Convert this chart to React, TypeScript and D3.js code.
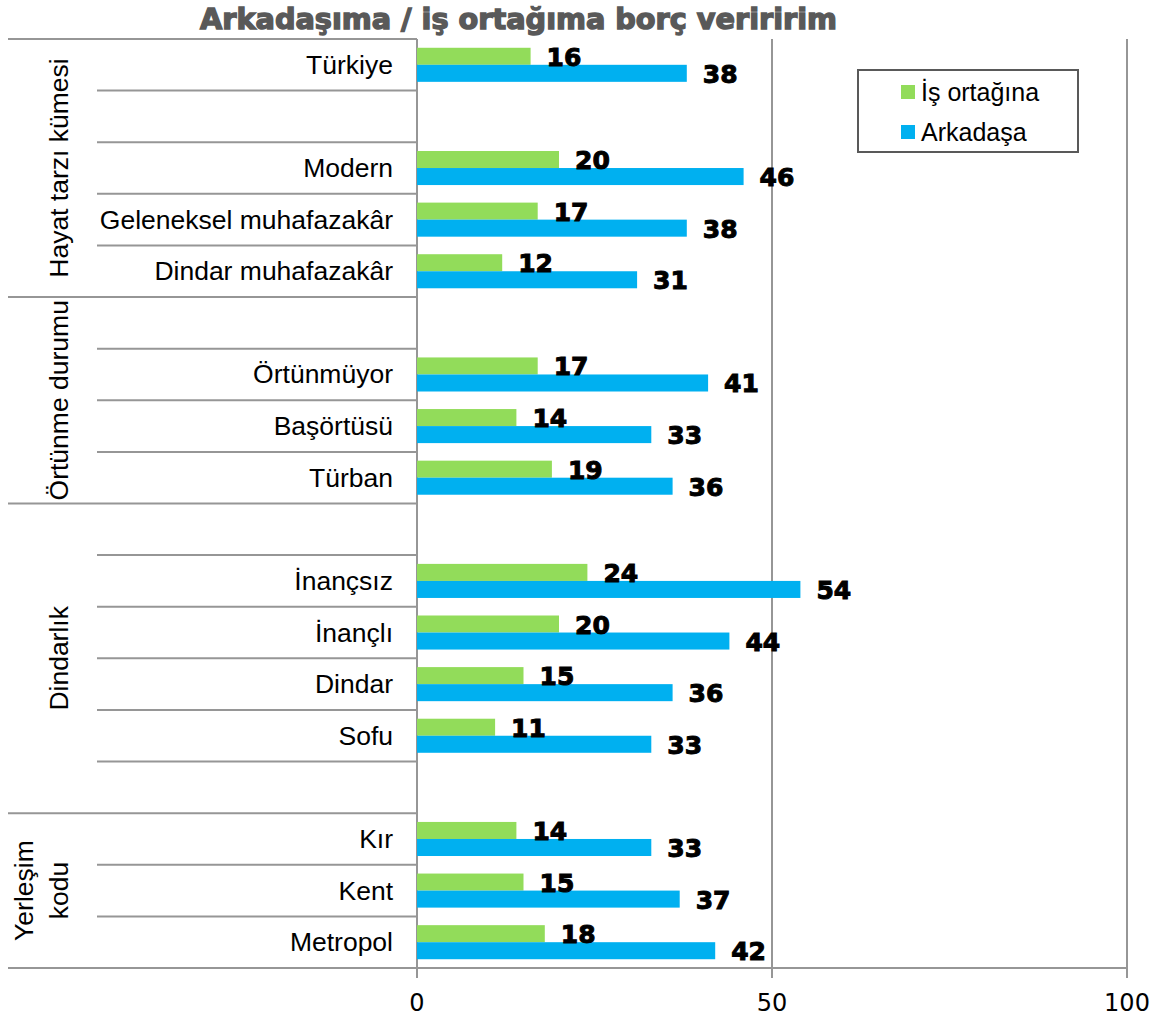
import React from "react";
import * as d3 from "d3";

const title = "Arkadaşıma / iş ortağıma borç veriririm";
const categories = [
  "Türkiye", "", "Modern", "Geleneksel muhafazakâr", "Dindar muhafazakâr",
  "", "Örtünmüyor", "Başörtüsü", "Türban",
  "", "İnançsız", "İnançlı", "Dindar", "Sofu", "",
  "Kır", "Kent", "Metropol",
];
const isOrtagina: (number | null)[] = [16, null, 20, 17, 12, null, 17, 14, 19, null, 24, 20, 15, 11, null, 14, 15, 18];
const arkadasa: (number | null)[] = [38, null, 46, 38, 31, null, 41, 33, 36, null, 54, 44, 36, 33, null, 33, 37, 42];
const seriesNames = ["İş ortağına", "Arkadaşa"];
const seriesColors = ["#92dc5a", "#00b0f0"];
const groupLabels = [["Hayat tarzı kümesi"], ["Örtünme durumu"], ["Dindarlık"], ["Yerleşim", "kodu"]];
const groupStarts = [0, 5, 9, 15];
const groupEnds = [5, 9, 15, 18];
const xTicks = [0, 50, 100];

const W = 1168, H = 1021;
const left = 417, right = 1127, top = 39, bottom = 968;
const gridColor = "#969696";
const catFont = "'Liberation Sans', Arial, sans-serif";

export default function App() {
  const x = d3.scaleLinear().domain([0, 100]).range([left, right]);
  const rows = d3.scaleBand<number>().domain(d3.range(categories.length)).range([top, bottom]).padding(0);
  const rh = rows.bandwidth();
  const inner = d3.scaleBand<number>().domain([0, 1]).range([rh * 0.17, rh * 0.83]).padding(0);
  const series = [isOrtagina, arkadasa];

  const groupStartSet = new Set(groupStarts);
  const rowLines = d3.range(categories.length).map((i) => ({
    y: rows(i)!,
    x1: groupStartSet.has(i) ? 8 : 97,
  }));

  return (
    <svg width={W} height={H} style={{ position: "absolute", left: 0, top: 0, background: "#fff" }}>
      {/* title */}
      <text x={518.5} y={29} textAnchor="middle" fontFamily="'DejaVu Sans', sans-serif" fontWeight="bold"
        fontSize={28} fill="#595959" stroke="#595959" strokeWidth={1.4} textLength={637}
        lengthAdjust="spacingAndGlyphs">{title}</text>

      {/* vertical gridlines */}
      {xTicks.map((t) => (
        <line key={"g" + t} x1={x(t)} x2={x(t)} y1={top} y2={bottom + 10} stroke={gridColor} strokeWidth={2} />
      ))}

      {/* category row separators */}
      {rowLines.map((l, i) => (
        <line key={"r" + i} x1={l.x1} x2={left} y1={l.y} y2={l.y} stroke={gridColor} strokeWidth={2} />
      ))}
      <line x1={8} x2={right} y1={bottom} y2={bottom} stroke={gridColor} strokeWidth={2} />

      {/* bars */}
      {series.map((vals, s) =>
        vals.map((v, i) =>
          v == null ? null : (
            <rect key={`b${s}-${i}`} x={x(0)} y={rows(i)! + inner(s)!} width={x(v) - x(0)} height={inner.bandwidth()}
              fill={seriesColors[s]} />
          )
        )
      )}

      {/* data labels */}
      {series.map((vals, s) =>
        vals.map((v, i) =>
          v == null ? null : (
            <text key={`l${s}-${i}`} x={x(v) + 16} y={rows(i)! + inner(s)! + inner.bandwidth() / 2 + 1}
              dominantBaseline="central" fontFamily="'DejaVu Sans', sans-serif" fontWeight="bold" fontSize={25}
              fill="#000" stroke="#000" strokeWidth={1}>{v}</text>
          )
        )
      )}

      {/* category labels */}
      {categories.map((c, i) => (
        <text key={"c" + i} x={393} y={rows(i)! + rh / 2} textAnchor="end" dominantBaseline="central"
          fontFamily={catFont} fontSize={26.5} fill="#000">{c}</text>
      ))}

      {/* group labels */}
      {groupLabels.map((lines, g) => {
        const cy = (rows(groupStarts[g])! + rows(groupEnds[g] - 1)! + rh) / 2;
        const n = lines.length;
        return (
          <g key={"gl" + g}>
            {lines.map((ln, k) => {
              const bx = 68 - (n - 1 - k) * 35;
              return (
                <text key={k} transform={`translate(${bx},${cy}) rotate(-90)`} textAnchor="middle"
                  fontFamily={catFont} fontSize={26.5} fill="#000">{ln}</text>
              );
            })}
          </g>
        );
      })}

      {/* x tick labels */}
      {xTicks.map((t) => (
        <text key={"t" + t} x={x(t)} y={1003} textAnchor="middle" dominantBaseline="central"
          fontFamily="'DejaVu Sans', sans-serif" fontSize={24} fill="#000">{t}</text>
      ))}

      {/* legend */}
      <rect x={858} y={70} width={220} height={82} fill="#fff" stroke="#595959" strokeWidth={2} />
      {seriesNames.map((n, s) => (
        <g key={"lg" + s}>
          <rect x={901} y={85 + s * 40} width={14} height={14} fill={seriesColors[s]} />
          <text x={921} y={92 + s * 40} dominantBaseline="central" fontFamily={catFont} fontSize={25} fill="#000">{n}</text>
        </g>
      ))}
    </svg>
  );
}
